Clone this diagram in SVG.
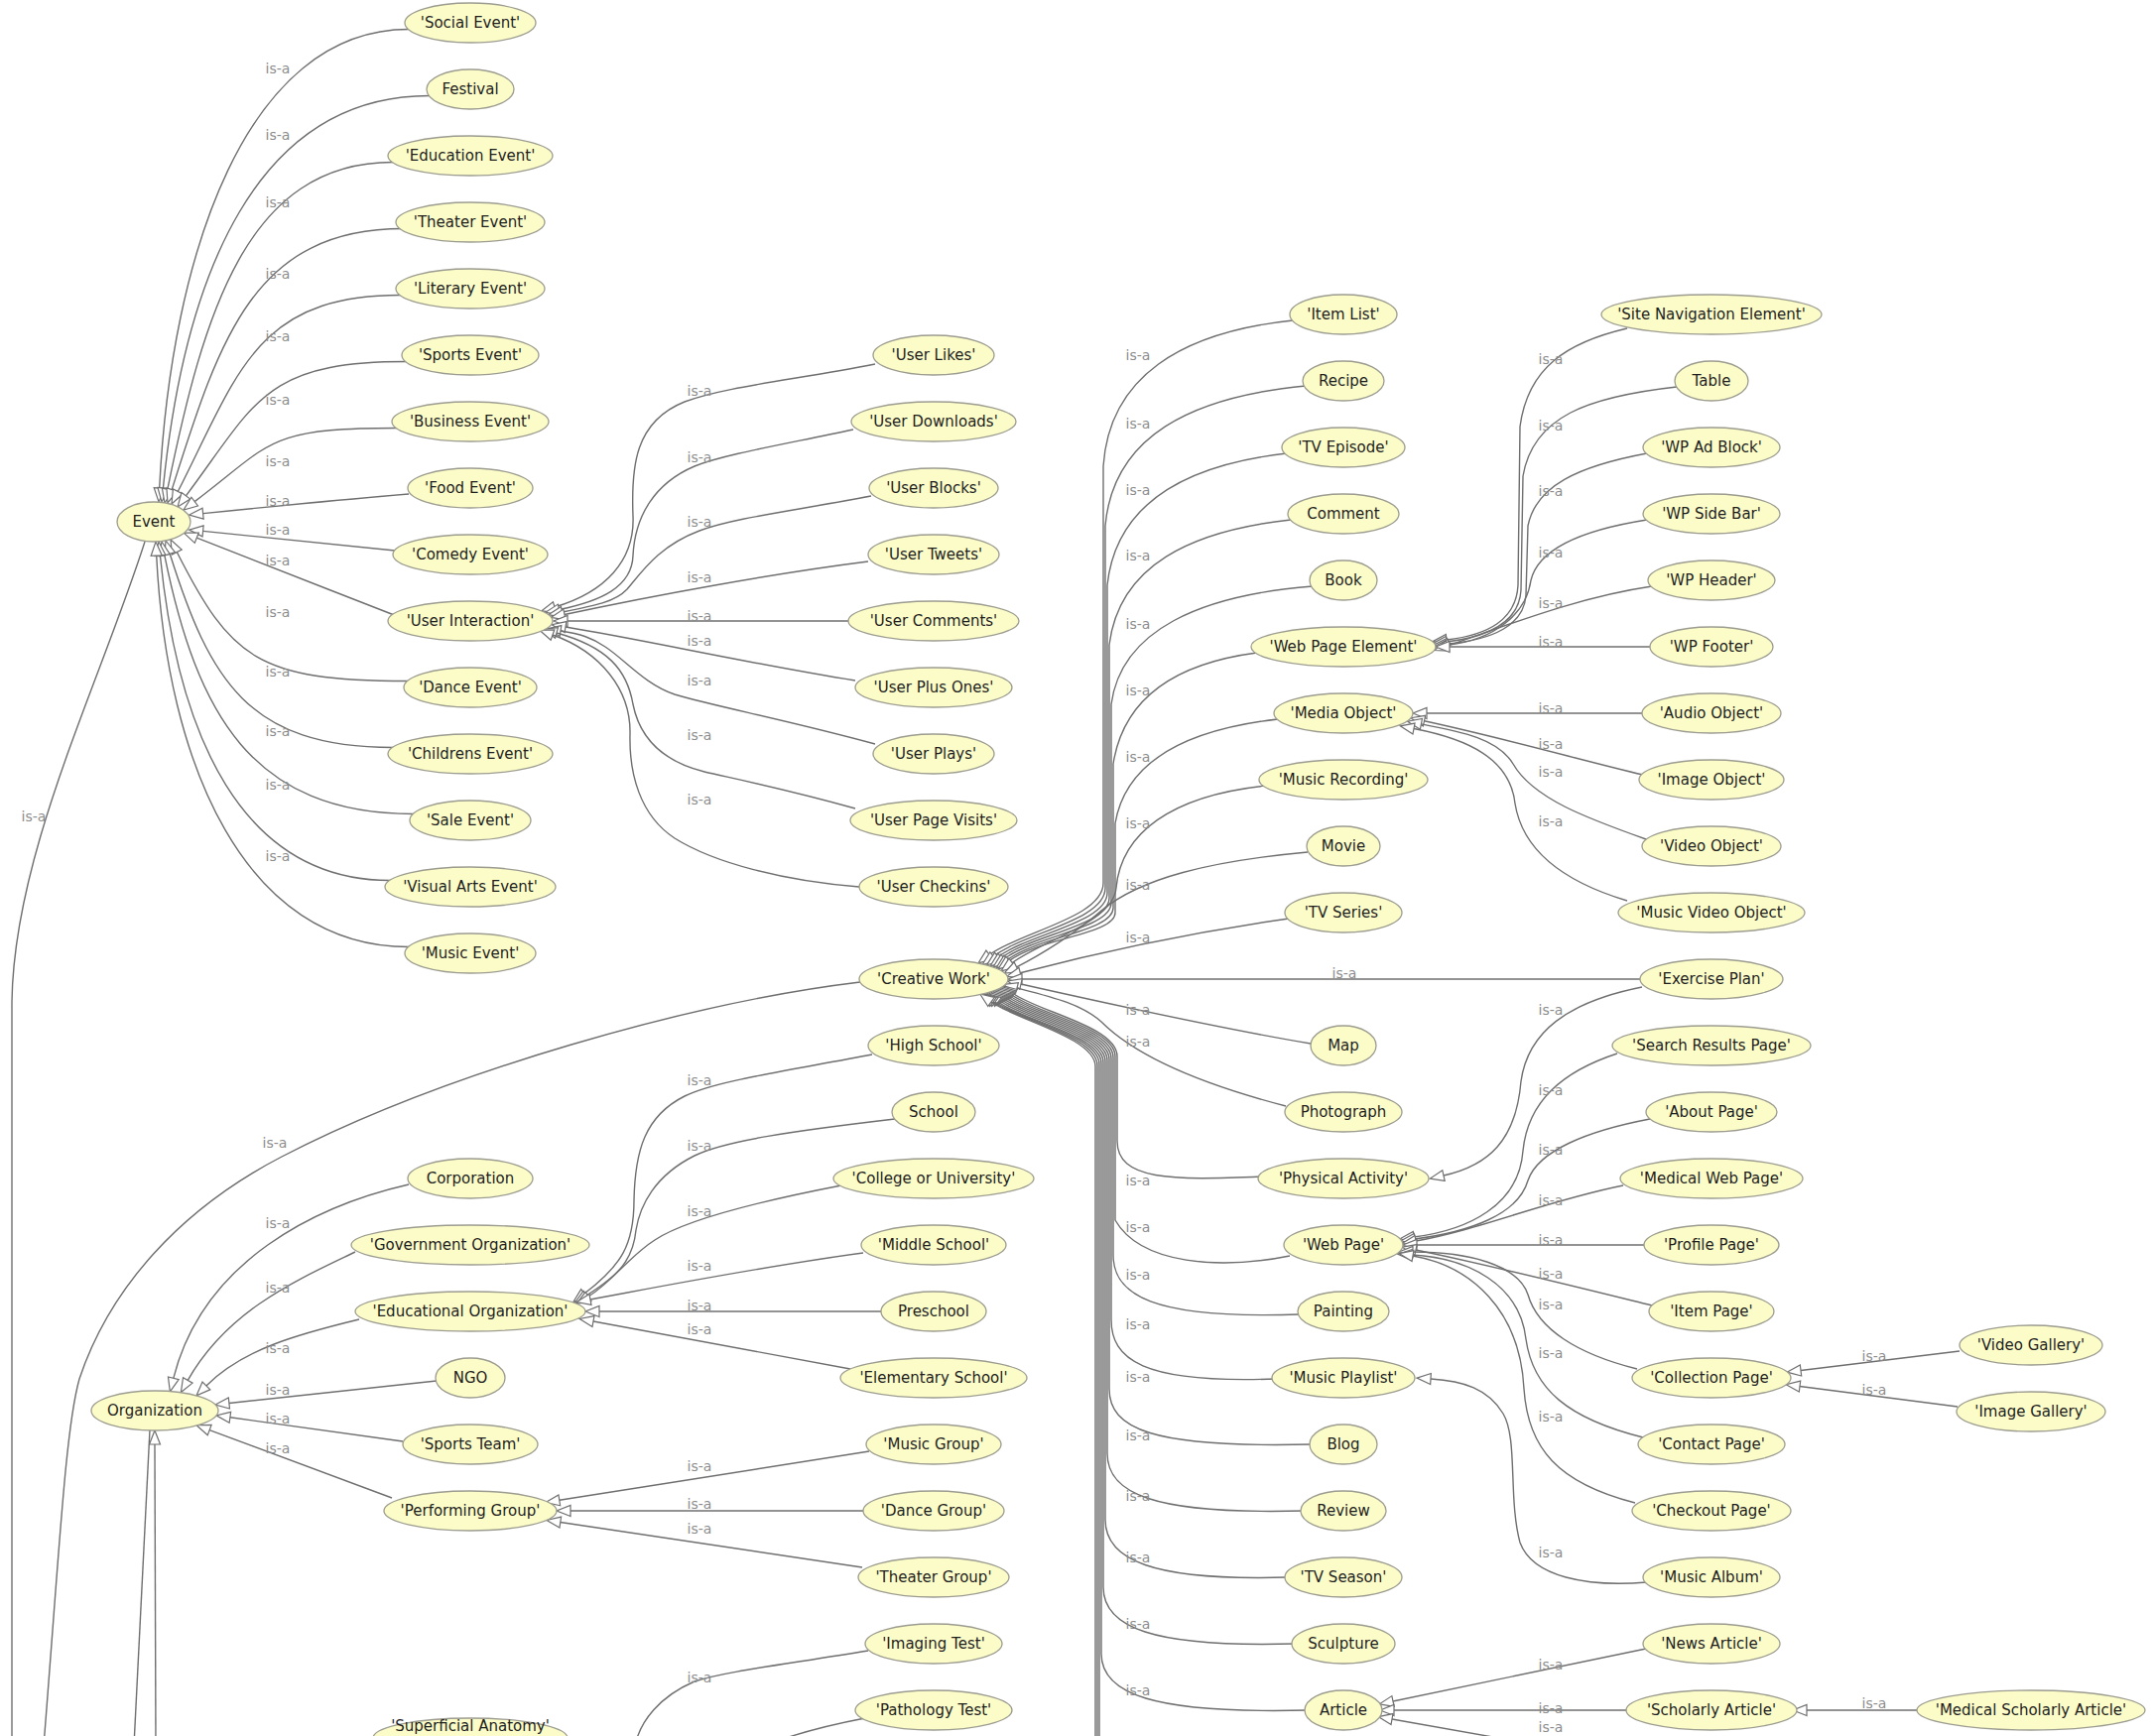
<svg xmlns="http://www.w3.org/2000/svg" width="2169" height="1750" viewBox="0 0 2169 1750">
<style>
.n ellipse{fill:#fcfcc8;stroke:#9c9c90;stroke-width:1.3}
.n text{font-family:"DejaVu Sans",Verdana,sans-serif;font-size:15px;fill:#1e1e1e;text-anchor:middle}
.e path{fill:none;stroke:#6f6f6f;stroke-width:1.4}
.e path.a{marker-end:url(#arr)}
.lb text{font-family:"DejaVu Sans",Verdana,sans-serif;font-size:14px;fill:#8c8c8c;text-anchor:middle}
</style>
<defs>
<marker id="arr" viewBox="0 0 16 12" markerWidth="16" markerHeight="12" refX="1" refY="6" orient="auto" markerUnits="userSpaceOnUse" overflow="visible">
<path d="M1,0.5 L15,6 L1,11.5 Z" fill="#ffffff" stroke="#6f6f6f" stroke-width="1.2"/>
</marker>
</defs>
<rect width="2169" height="1750" fill="#ffffff"/>
<g id="connectors" class="e">
<path class="a" d="M412,29.5 C249,29.5 172.5,255 160.7,492"/>
<path class="a" d="M432.6,96.5 C258,96.5 186,278 164.4,492"/>
<path class="a" d="M396,163.5 C248,163.5 205,317 168.8,493.3"/>
<path class="a" d="M406.3,230.5 C255,230.5 221,343 173.2,493.6"/>
<path class="a" d="M403.5,297.5 C258,297.5 240,376 179.3,495.5"/>
<path class="a" d="M409.1,364.5 C265,364.5 257.5,406.3 187.4,499.8"/>
<path class="a" d="M399.7,431.5 C267,431.5 274,447 196.2,505.6"/>
<path class="a" d="M412,498 C340,504 270,511 204.6,517.6"/>
<path class="a" d="M398,555 C330,548 265,541 204.6,535.4"/>
<path class="a" d="M396,619.5 C330,594 265,568 198.3,542.2"/>
<path class="a" d="M411,686.5 C259.7,686.5 232.3,663.3 178.3,556.5"/>
<path class="a" d="M396,753.5 C250,753.5 211.4,685.6 171.2,558.3"/>
<path class="a" d="M416.7,820.5 C253.6,820.5 198.4,719.3 165.8,559.7"/>
<path class="a" d="M393.2,887.5 C242.5,887.5 179.4,739.6 161.4,560"/>
<path class="a" d="M412,954.5 C246.7,954.5 168.3,771.2 157.7,560"/>
<path d="M12,1760 L12,1010 C14,860 100,690 146,546"/>
<path class="a" d="M412,1194 C320,1215 205,1270 174.8,1389.3"/>
<path class="a" d="M358,1262 C300,1290 230,1320 189.3,1391.4"/>
<path class="a" d="M362,1330 C300,1345 245,1360 207.9,1397"/>
<path class="a" d="M440,1392 L230.9,1414.5"/>
<path class="a" d="M406,1453 L231.9,1428.8"/>
<path class="a" d="M395,1510 L211.2,1441.6"/>
<path class="a" d="M157,1760 L156,1456"/>
<path d="M151,1441 L135,1760"/>
<path d="M867,990 C700,1010 450,1080 284,1166 C180,1220 110,1300 80,1390 C66,1440 60,1560 44,1760"/>
<path class="a" d="M882,367 C800,383 730,390 690,405 C640,425 636,470 638,520 C640,565 610,597 559,612"/>
<path class="a" d="M860,433 C790,448 730,458 700,470 C660,487 640,520 638,560 C637,592 605,606 563.5,614.5"/>
<path class="a" d="M878,500 C800,515 740,522 705,535 C665,550 648,575 632,594 C620,607 598,611 566.5,617"/>
<path class="a" d="M875,566 C780,578 660,600 569,619.5"/>
<path class="a" d="M857,626 L572,626"/>
<path class="a" d="M862,686 C760,670 650,645 570,632"/>
<path class="a" d="M882,750 C790,725 720,712 680,700 C650,690 630,665 610,652 C597,643 585,639 565,636"/>
<path class="a" d="M862,815 C790,795 740,785 710,778 C670,768 645,745 638,710 C632,675 612,652 561,638"/>
<path class="a" d="M866,894 C790,888 720,870 680,845 C645,822 634,780 635,740 C636,695 605,657 557,640"/>
<path class="a" d="M1303,323 C1190,335 1118,380 1112,470 L1112,890 C1112,925 1029,939 997.2,962.6"/>
<path class="a" d="M1316,389 C1200,400 1122,440 1114,530 L1114,895 C1114,928 1033,940 1001.2,964.1"/>
<path class="a" d="M1297,457 C1200,468 1125,505 1116,590 L1116,900 C1116,930 1038,941 1005.8,964.6"/>
<path class="a" d="M1301,524 C1200,535 1128,570 1118,650 L1118,905 C1118,933 1041,942 1009.2,965.6"/>
<path class="a" d="M1323,591 C1210,600 1130,635 1120,710 L1120,910 C1120,936 1044,943 1012.2,966.6"/>
<path class="a" d="M1267,658 C1190,668 1133,700 1122,770 L1122,915 C1122,939 1047,944 1015.2,967.6"/>
<path class="a" d="M1288,725 C1200,735 1135,765 1124,830 L1124,920 C1124,942 1049,945 1017.2,968.6"/>
<path class="a" d="M1276,792 C1180,802 1130,840 1125,895 C1122,930 1052,947 1020.2,970.6"/>
<path class="a" d="M1318,859 C1220,868 1150,885 1110,918 C1085,940 1050,962 1024.6,974.8"/>
<path class="a" d="M1299,926 C1200,940 1100,962 1028.3,980.7"/>
<path class="a" d="M1653,987 L1030,987"/>
<path class="a" d="M1321,1052 C1220,1035 1100,1008 1029,992"/>
<path class="a" d="M1296,1115 C1200,1090 1140,1060 1110,1030 C1090,1012 1060,1005 1025,996"/>
<path class="a" d="M1273,1186 C1180,1190 1126,1190 1126,1150 L1126,1065 C1126,1035 1047,1020 1022,1002"/>
<path class="a" d="M1300,1266 C1230,1280 1150,1275 1124,1230 L1124,1065 C1124,1036 1045,1022 1020,1003"/>
<path class="a" d="M1309,1325 C1160,1330 1122,1305 1122,1265 L1122,1066 C1122,1037 1043,1023 1018,1004"/>
<path class="a" d="M1286,1390 C1150,1395 1120,1370 1120,1330 L1120,1067 C1120,1038 1041,1024 1016,1005"/>
<path class="a" d="M1322,1456 C1160,1460 1118,1440 1118,1400 L1118,1068 C1118,1039 1039,1025 1014,1006"/>
<path class="a" d="M1314,1523 C1160,1527 1116,1505 1116,1465 L1116,1069 C1116,1040 1037,1026 1012,1007"/>
<path class="a" d="M1297,1590 C1160,1594 1114,1572 1114,1532 L1114,1070 C1114,1041 1035,1027 1010,1008"/>
<path class="a" d="M1305,1657 C1160,1661 1112,1640 1112,1600 L1112,1071 C1112,1042 1033,1028 1008,1009"/>
<path class="a" d="M1319,1724 C1160,1728 1110,1707 1110,1667 L1110,1072 C1110,1043 1031,1029 1006,1010"/>
<path class="a" d="M1108,1760 L1108,1073 C1108,1044 1028,1028 1003,1010"/>
<path class="a" d="M1106,1760 L1106,1074 C1106,1045 1026,1028 1001,1010"/>
<path class="a" d="M1104,1760 L1104,1075 C1104,1046 1024,1028 999,1010"/>
<path class="a" d="M1640,331 C1580,345 1540,370 1532,430 L1530,590 C1528,625 1500,640 1458,645"/>
<path class="a" d="M1690,390 C1600,400 1545,420 1535,480 L1533,595 C1531,628 1500,642 1458,647"/>
<path class="a" d="M1660,457 C1590,470 1548,490 1540,530 L1538,600 C1536,630 1505,645 1459,649"/>
<path class="a" d="M1660,524 C1590,535 1550,555 1543,585 C1538,620 1505,645 1460,650"/>
<path class="a" d="M1665,591 C1590,602 1520,630 1459,651"/>
<path class="a" d="M1663,652 L1461,652"/>
<path class="a" d="M1655,719 L1438,719"/>
<path class="a" d="M1656,781 C1600,768 1520,745 1435.5,726.7"/>
<path class="a" d="M1659,846 C1600,825 1545,805 1525,770 C1510,745 1475,738 1432.4,729.9"/>
<path class="a" d="M1640,908 C1580,890 1535,860 1527,810 C1522,765 1480,745 1425,734.5"/>
<path class="a" d="M1655,995 C1580,1010 1540,1040 1533,1090 C1528,1150 1500,1175 1455,1185"/>
<path class="a" d="M1630,1062 C1575,1080 1540,1110 1535,1160 C1531,1215 1480,1240 1425,1247"/>
<path class="a" d="M1663,1128 C1600,1140 1550,1160 1540,1190 C1530,1225 1480,1242 1426,1249"/>
<path class="a" d="M1636,1195 C1560,1210 1490,1240 1427,1251"/>
<path class="a" d="M1657,1255 L1428,1255"/>
<path class="a" d="M1665,1316 C1600,1300 1500,1275 1427,1260"/>
<path class="a" d="M1650,1380 C1590,1365 1550,1340 1540,1305 C1530,1275 1480,1262 1424,1262"/>
<path class="a" d="M1656,1449 C1580,1430 1545,1400 1538,1350 C1532,1295 1480,1268 1423,1265"/>
<path class="a" d="M1648,1515 C1570,1495 1540,1460 1536,1400 C1532,1320 1482,1276 1424,1266"/>
<path class="a" d="M1975,1362 L1815,1381.5"/>
<path class="a" d="M1973,1418 L1814,1397.5"/>
<path class="a" d="M1660,1595 C1600,1600 1545,1590 1532,1555 C1520,1510 1530,1450 1515,1425 C1500,1400 1475,1392 1442,1390"/>
<path class="a" d="M1659,1662 L1404,1715"/>
<path class="a" d="M1643,1724 L1405,1724"/>
<path class="a" d="M1640,1775 L1403,1733"/>
<path class="a" d="M1932,1724 L1821,1724"/>
<path class="a" d="M879,1063 C790,1080 720,1090 690,1105 C650,1125 640,1160 639,1210 C639,1255 626,1276 589,1304"/>
<path class="a" d="M902,1128 C800,1140 730,1150 700,1165 C660,1185 645,1215 641,1240 C638,1270 624,1285 591,1306"/>
<path class="a" d="M848,1195 C760,1212 690,1230 660,1250 C632,1268 620,1290 593,1307"/>
<path class="a" d="M870,1263 C760,1278 660,1298 595,1310"/>
<path class="a" d="M888,1322 L604,1322"/>
<path class="a" d="M857,1380 L598,1332"/>
<path class="a" d="M876,1463 L563.8,1512.3"/>
<path class="a" d="M870,1523 L575,1523"/>
<path class="a" d="M869,1580 L564.8,1534.5"/>
<path d="M875,1664 C790,1678 730,1685 700,1695 C665,1710 645,1735 640,1760"/>
<path d="M872,1732 C830,1740 800,1748 770,1760"/>
</g>
<g id="connector-labels" class="lb">
<text x="280" y="74">is-a</text>
<text x="280" y="141">is-a</text>
<text x="280" y="209">is-a</text>
<text x="280" y="281">is-a</text>
<text x="280" y="344">is-a</text>
<text x="280" y="408">is-a</text>
<text x="280" y="470">is-a</text>
<text x="280" y="510">is-a</text>
<text x="280" y="539">is-a</text>
<text x="280" y="570">is-a</text>
<text x="280" y="622">is-a</text>
<text x="280" y="682">is-a</text>
<text x="280" y="742">is-a</text>
<text x="280" y="796">is-a</text>
<text x="280" y="868">is-a</text>
<text x="34" y="828">is-a</text>
<text x="277" y="1157">is-a</text>
<text x="280" y="1238">is-a</text>
<text x="280" y="1303">is-a</text>
<text x="280" y="1364">is-a</text>
<text x="280" y="1406">is-a</text>
<text x="280" y="1435">is-a</text>
<text x="280" y="1465">is-a</text>
<text x="705" y="399">is-a</text>
<text x="705" y="466">is-a</text>
<text x="705" y="531">is-a</text>
<text x="705" y="587">is-a</text>
<text x="705" y="626">is-a</text>
<text x="705" y="651">is-a</text>
<text x="705" y="691">is-a</text>
<text x="705" y="746">is-a</text>
<text x="705" y="811">is-a</text>
<text x="705" y="1094">is-a</text>
<text x="705" y="1160">is-a</text>
<text x="705" y="1226">is-a</text>
<text x="705" y="1281">is-a</text>
<text x="705" y="1321">is-a</text>
<text x="705" y="1345">is-a</text>
<text x="705" y="1483">is-a</text>
<text x="705" y="1521">is-a</text>
<text x="705" y="1546">is-a</text>
<text x="705" y="1696">is-a</text>
<text x="1147" y="363">is-a</text>
<text x="1147" y="432">is-a</text>
<text x="1147" y="499">is-a</text>
<text x="1147" y="565">is-a</text>
<text x="1147" y="634">is-a</text>
<text x="1147" y="701">is-a</text>
<text x="1147" y="768">is-a</text>
<text x="1147" y="835">is-a</text>
<text x="1147" y="897">is-a</text>
<text x="1147" y="950">is-a</text>
<text x="1147" y="1023">is-a</text>
<text x="1147" y="1055">is-a</text>
<text x="1147" y="1195">is-a</text>
<text x="1147" y="1242">is-a</text>
<text x="1147" y="1290">is-a</text>
<text x="1147" y="1340">is-a</text>
<text x="1147" y="1393">is-a</text>
<text x="1147" y="1452">is-a</text>
<text x="1147" y="1513">is-a</text>
<text x="1147" y="1575">is-a</text>
<text x="1147" y="1642">is-a</text>
<text x="1147" y="1709">is-a</text>
<text x="1355" y="986">is-a</text>
<text x="1563" y="367">is-a</text>
<text x="1563" y="434">is-a</text>
<text x="1563" y="500">is-a</text>
<text x="1563" y="562">is-a</text>
<text x="1563" y="613">is-a</text>
<text x="1563" y="652">is-a</text>
<text x="1563" y="719">is-a</text>
<text x="1563" y="755">is-a</text>
<text x="1563" y="783">is-a</text>
<text x="1563" y="833">is-a</text>
<text x="1563" y="1023">is-a</text>
<text x="1563" y="1104">is-a</text>
<text x="1563" y="1164">is-a</text>
<text x="1563" y="1215">is-a</text>
<text x="1563" y="1255">is-a</text>
<text x="1563" y="1289">is-a</text>
<text x="1563" y="1320">is-a</text>
<text x="1563" y="1369">is-a</text>
<text x="1563" y="1433">is-a</text>
<text x="1563" y="1570">is-a</text>
<text x="1563" y="1683">is-a</text>
<text x="1563" y="1727">is-a</text>
<text x="1563" y="1746">is-a</text>
<text x="1889" y="1372">is-a</text>
<text x="1889" y="1406">is-a</text>
<text x="1889" y="1722">is-a</text>
</g>
<g id="node-social-event" class="n"><ellipse cx="474" cy="23" rx="66" ry="20"/><text x="474" y="28">'Social Event'</text></g>
<g id="node-festival" class="n"><ellipse cx="474" cy="90" rx="44" ry="20"/><text x="474" y="95">Festival</text></g>
<g id="node-education-event" class="n"><ellipse cx="474" cy="157" rx="83" ry="20"/><text x="474" y="162">'Education Event'</text></g>
<g id="node-theater-event" class="n"><ellipse cx="474" cy="224" rx="75" ry="20"/><text x="474" y="229">'Theater Event'</text></g>
<g id="node-literary-event" class="n"><ellipse cx="474" cy="291" rx="75" ry="20"/><text x="474" y="296">'Literary Event'</text></g>
<g id="node-sports-event" class="n"><ellipse cx="474" cy="358" rx="69" ry="20"/><text x="474" y="363">'Sports Event'</text></g>
<g id="node-business-event" class="n"><ellipse cx="474" cy="425" rx="79" ry="20"/><text x="474" y="430">'Business Event'</text></g>
<g id="node-food-event" class="n"><ellipse cx="474" cy="492" rx="63" ry="20"/><text x="474" y="497">'Food Event'</text></g>
<g id="node-comedy-event" class="n"><ellipse cx="474" cy="559" rx="78" ry="20"/><text x="474" y="564">'Comedy Event'</text></g>
<g id="node-user-interaction" class="n"><ellipse cx="474" cy="626" rx="83" ry="20"/><text x="474" y="631">'User Interaction'</text></g>
<g id="node-dance-event" class="n"><ellipse cx="474" cy="693" rx="67" ry="20"/><text x="474" y="698">'Dance Event'</text></g>
<g id="node-childrens-event" class="n"><ellipse cx="474" cy="760" rx="83" ry="20"/><text x="474" y="765">'Childrens Event'</text></g>
<g id="node-sale-event" class="n"><ellipse cx="474" cy="827" rx="61" ry="20"/><text x="474" y="832">'Sale Event'</text></g>
<g id="node-visual-arts-event" class="n"><ellipse cx="474" cy="894" rx="86" ry="20"/><text x="474" y="899">'Visual Arts Event'</text></g>
<g id="node-music-event" class="n"><ellipse cx="474" cy="961" rx="66" ry="20"/><text x="474" y="966">'Music Event'</text></g>
<g id="node-corporation" class="n"><ellipse cx="474" cy="1188" rx="63" ry="20"/><text x="474" y="1193">Corporation</text></g>
<g id="node-government-organization" class="n"><ellipse cx="474" cy="1255" rx="120" ry="20"/><text x="474" y="1260">'Government Organization'</text></g>
<g id="node-educational-organization" class="n"><ellipse cx="474" cy="1322" rx="116" ry="20"/><text x="474" y="1327">'Educational Organization'</text></g>
<g id="node-ngo" class="n"><ellipse cx="474" cy="1389" rx="35" ry="20"/><text x="474" y="1394">NGO</text></g>
<g id="node-sports-team" class="n"><ellipse cx="474" cy="1456" rx="68" ry="20"/><text x="474" y="1461">'Sports Team'</text></g>
<g id="node-performing-group" class="n"><ellipse cx="474" cy="1523" rx="87" ry="20"/><text x="474" y="1528">'Performing Group'</text></g>
<g id="node-superficial-anatomy" class="n"><ellipse cx="474" cy="1752" rx="98" ry="20"/><text x="474" y="1745">'Superficial Anatomy'</text></g>
<g id="node-event" class="n"><ellipse cx="155" cy="526" rx="37" ry="20"/><text x="155" y="531">Event</text></g>
<g id="node-organization" class="n"><ellipse cx="156" cy="1422" rx="64" ry="20"/><text x="156" y="1427">Organization</text></g>
<g id="node-user-likes" class="n"><ellipse cx="941" cy="358" rx="61" ry="20"/><text x="941" y="363">'User Likes'</text></g>
<g id="node-user-downloads" class="n"><ellipse cx="941" cy="425" rx="83" ry="20"/><text x="941" y="430">'User Downloads'</text></g>
<g id="node-user-blocks" class="n"><ellipse cx="941" cy="492" rx="65" ry="20"/><text x="941" y="497">'User Blocks'</text></g>
<g id="node-user-tweets" class="n"><ellipse cx="941" cy="559" rx="66" ry="20"/><text x="941" y="564">'User Tweets'</text></g>
<g id="node-user-comments" class="n"><ellipse cx="941" cy="626" rx="86" ry="20"/><text x="941" y="631">'User Comments'</text></g>
<g id="node-user-plus-ones" class="n"><ellipse cx="941" cy="693" rx="79" ry="20"/><text x="941" y="698">'User Plus Ones'</text></g>
<g id="node-user-plays" class="n"><ellipse cx="941" cy="760" rx="61" ry="20"/><text x="941" y="765">'User Plays'</text></g>
<g id="node-user-page-visits" class="n"><ellipse cx="941" cy="827" rx="84" ry="20"/><text x="941" y="832">'User Page Visits'</text></g>
<g id="node-user-checkins" class="n"><ellipse cx="941" cy="894" rx="75" ry="20"/><text x="941" y="899">'User Checkins'</text></g>
<g id="node-creative-work" class="n"><ellipse cx="941" cy="987" rx="75" ry="20"/><text x="941" y="992">'Creative Work'</text></g>
<g id="node-high-school" class="n"><ellipse cx="941" cy="1054" rx="66" ry="20"/><text x="941" y="1059">'High School'</text></g>
<g id="node-school" class="n"><ellipse cx="941" cy="1121" rx="42" ry="20"/><text x="941" y="1126">School</text></g>
<g id="node-college-or-university" class="n"><ellipse cx="941" cy="1188" rx="101" ry="20"/><text x="941" y="1193">'College or University'</text></g>
<g id="node-middle-school" class="n"><ellipse cx="941" cy="1255" rx="73" ry="20"/><text x="941" y="1260">'Middle School'</text></g>
<g id="node-preschool" class="n"><ellipse cx="941" cy="1322" rx="53" ry="20"/><text x="941" y="1327">Preschool</text></g>
<g id="node-elementary-school" class="n"><ellipse cx="941" cy="1389" rx="94" ry="20"/><text x="941" y="1394">'Elementary School'</text></g>
<g id="node-music-group" class="n"><ellipse cx="941" cy="1456" rx="68" ry="20"/><text x="941" y="1461">'Music Group'</text></g>
<g id="node-dance-group" class="n"><ellipse cx="941" cy="1523" rx="71" ry="20"/><text x="941" y="1528">'Dance Group'</text></g>
<g id="node-theater-group" class="n"><ellipse cx="941" cy="1590" rx="76" ry="20"/><text x="941" y="1595">'Theater Group'</text></g>
<g id="node-imaging-test" class="n"><ellipse cx="941" cy="1657" rx="69" ry="20"/><text x="941" y="1662">'Imaging Test'</text></g>
<g id="node-pathology-test" class="n"><ellipse cx="941" cy="1724" rx="79" ry="20"/><text x="941" y="1729">'Pathology Test'</text></g>
<g id="node-item-list" class="n"><ellipse cx="1354" cy="317" rx="54" ry="20"/><text x="1354" y="322">'Item List'</text></g>
<g id="node-recipe" class="n"><ellipse cx="1354" cy="384" rx="41" ry="20"/><text x="1354" y="389">Recipe</text></g>
<g id="node-tv-episode" class="n"><ellipse cx="1354" cy="451" rx="62" ry="20"/><text x="1354" y="456">'TV Episode'</text></g>
<g id="node-comment" class="n"><ellipse cx="1354" cy="518" rx="56" ry="20"/><text x="1354" y="523">Comment</text></g>
<g id="node-book" class="n"><ellipse cx="1354" cy="585" rx="34" ry="20"/><text x="1354" y="590">Book</text></g>
<g id="node-web-page-element" class="n"><ellipse cx="1354" cy="652" rx="93" ry="20"/><text x="1354" y="657">'Web Page Element'</text></g>
<g id="node-media-object" class="n"><ellipse cx="1354" cy="719" rx="70" ry="20"/><text x="1354" y="724">'Media Object'</text></g>
<g id="node-music-recording" class="n"><ellipse cx="1354" cy="786" rx="85" ry="20"/><text x="1354" y="791">'Music Recording'</text></g>
<g id="node-movie" class="n"><ellipse cx="1354" cy="853" rx="37" ry="20"/><text x="1354" y="858">Movie</text></g>
<g id="node-tv-series" class="n"><ellipse cx="1354" cy="920" rx="59" ry="20"/><text x="1354" y="925">'TV Series'</text></g>
<g id="node-map" class="n"><ellipse cx="1354" cy="1054" rx="33" ry="20"/><text x="1354" y="1059">Map</text></g>
<g id="node-photograph" class="n"><ellipse cx="1354" cy="1121" rx="59" ry="20"/><text x="1354" y="1126">Photograph</text></g>
<g id="node-physical-activity" class="n"><ellipse cx="1354" cy="1188" rx="86" ry="20"/><text x="1354" y="1193">'Physical Activity'</text></g>
<g id="node-web-page" class="n"><ellipse cx="1354" cy="1255" rx="60" ry="20"/><text x="1354" y="1260">'Web Page'</text></g>
<g id="node-painting" class="n"><ellipse cx="1354" cy="1322" rx="46" ry="20"/><text x="1354" y="1327">Painting</text></g>
<g id="node-music-playlist" class="n"><ellipse cx="1354" cy="1389" rx="72" ry="20"/><text x="1354" y="1394">'Music Playlist'</text></g>
<g id="node-blog" class="n"><ellipse cx="1354" cy="1456" rx="34" ry="20"/><text x="1354" y="1461">Blog</text></g>
<g id="node-review" class="n"><ellipse cx="1354" cy="1523" rx="43" ry="20"/><text x="1354" y="1528">Review</text></g>
<g id="node-tv-season" class="n"><ellipse cx="1354" cy="1590" rx="59" ry="20"/><text x="1354" y="1595">'TV Season'</text></g>
<g id="node-sculpture" class="n"><ellipse cx="1354" cy="1657" rx="52" ry="20"/><text x="1354" y="1662">Sculpture</text></g>
<g id="node-article" class="n"><ellipse cx="1354" cy="1724" rx="39" ry="20"/><text x="1354" y="1729">Article</text></g>
<g id="node-site-navigation-element" class="n"><ellipse cx="1725" cy="317" rx="111" ry="20"/><text x="1725" y="322">'Site Navigation Element'</text></g>
<g id="node-table" class="n"><ellipse cx="1725" cy="384" rx="37" ry="20"/><text x="1725" y="389">Table</text></g>
<g id="node-wp-ad-block" class="n"><ellipse cx="1725" cy="451" rx="69" ry="20"/><text x="1725" y="456">'WP Ad Block'</text></g>
<g id="node-wp-side-bar" class="n"><ellipse cx="1725" cy="518" rx="69" ry="20"/><text x="1725" y="523">'WP Side Bar'</text></g>
<g id="node-wp-header" class="n"><ellipse cx="1725" cy="585" rx="64" ry="20"/><text x="1725" y="590">'WP Header'</text></g>
<g id="node-wp-footer" class="n"><ellipse cx="1725" cy="652" rx="62" ry="20"/><text x="1725" y="657">'WP Footer'</text></g>
<g id="node-audio-object" class="n"><ellipse cx="1725" cy="719" rx="70" ry="20"/><text x="1725" y="724">'Audio Object'</text></g>
<g id="node-image-object" class="n"><ellipse cx="1725" cy="786" rx="73" ry="20"/><text x="1725" y="791">'Image Object'</text></g>
<g id="node-video-object" class="n"><ellipse cx="1725" cy="853" rx="70" ry="20"/><text x="1725" y="858">'Video Object'</text></g>
<g id="node-music-video-object" class="n"><ellipse cx="1725" cy="920" rx="94" ry="20"/><text x="1725" y="925">'Music Video Object'</text></g>
<g id="node-exercise-plan" class="n"><ellipse cx="1725" cy="987" rx="72" ry="20"/><text x="1725" y="992">'Exercise Plan'</text></g>
<g id="node-search-results-page" class="n"><ellipse cx="1725" cy="1054" rx="100" ry="20"/><text x="1725" y="1059">'Search Results Page'</text></g>
<g id="node-about-page" class="n"><ellipse cx="1725" cy="1121" rx="66" ry="20"/><text x="1725" y="1126">'About Page'</text></g>
<g id="node-medical-web-page" class="n"><ellipse cx="1725" cy="1188" rx="92" ry="20"/><text x="1725" y="1193">'Medical Web Page'</text></g>
<g id="node-profile-page" class="n"><ellipse cx="1725" cy="1255" rx="68" ry="20"/><text x="1725" y="1260">'Profile Page'</text></g>
<g id="node-item-page" class="n"><ellipse cx="1725" cy="1322" rx="63" ry="20"/><text x="1725" y="1327">'Item Page'</text></g>
<g id="node-collection-page" class="n"><ellipse cx="1725" cy="1389" rx="80" ry="20"/><text x="1725" y="1394">'Collection Page'</text></g>
<g id="node-contact-page" class="n"><ellipse cx="1725" cy="1456" rx="74" ry="20"/><text x="1725" y="1461">'Contact Page'</text></g>
<g id="node-checkout-page" class="n"><ellipse cx="1725" cy="1523" rx="80" ry="20"/><text x="1725" y="1528">'Checkout Page'</text></g>
<g id="node-music-album" class="n"><ellipse cx="1725" cy="1590" rx="69" ry="20"/><text x="1725" y="1595">'Music Album'</text></g>
<g id="node-news-article" class="n"><ellipse cx="1725" cy="1657" rx="69" ry="20"/><text x="1725" y="1662">'News Article'</text></g>
<g id="node-scholarly-article" class="n"><ellipse cx="1725" cy="1724" rx="86" ry="20"/><text x="1725" y="1729">'Scholarly Article'</text></g>
<g id="node-video-gallery" class="n"><ellipse cx="2047" cy="1356" rx="72" ry="20"/><text x="2047" y="1361">'Video Gallery'</text></g>
<g id="node-image-gallery" class="n"><ellipse cx="2047" cy="1423" rx="75" ry="20"/><text x="2047" y="1428">'Image Gallery'</text></g>
<g id="node-medical-scholarly-article" class="n"><ellipse cx="2047" cy="1724" rx="115" ry="20"/><text x="2047" y="1729">'Medical Scholarly Article'</text></g>
</svg>
